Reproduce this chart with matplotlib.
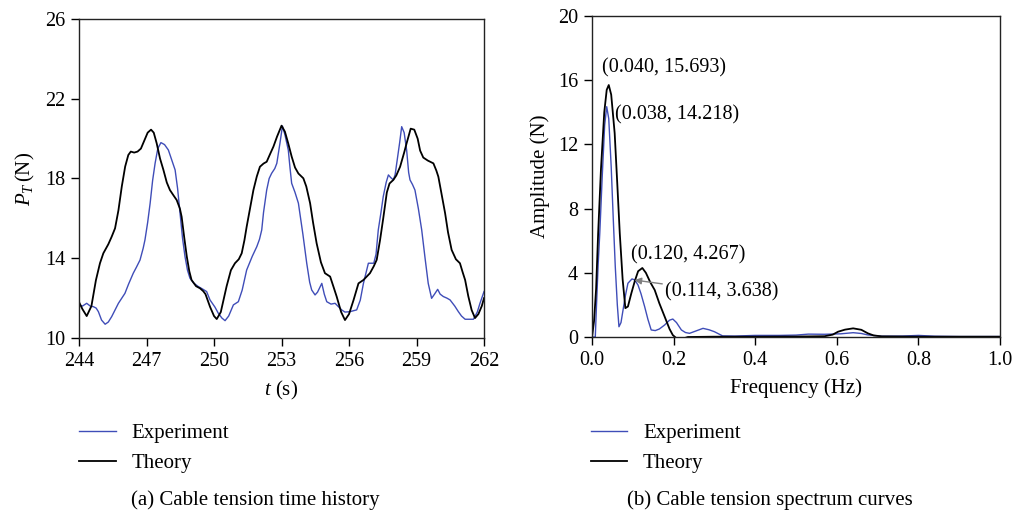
import numpy as np
import matplotlib
matplotlib.use("Agg")
import matplotlib.pyplot as plt

plt.rcParams["font.family"] = ["Liberation Serif", "DejaVu Serif"]
plt.rcParams["mathtext.fontset"] = "custom"
plt.rcParams["mathtext.rm"] = "Liberation Serif"
plt.rcParams["mathtext.it"] = "Liberation Serif:italic"

# (a) cable tension time history
t_theory = [244.0, 244.15, 244.34, 244.55, 244.75, 244.93, 245.08, 245.3, 245.45, 245.6,
            245.75, 245.9, 246.05, 246.19, 246.3, 246.45, 246.6, 246.75, 246.9, 247.05,
            247.2, 247.32, 247.45, 247.6, 247.75, 247.9, 248.04, 248.2, 248.34, 248.48,
            248.56, 248.68, 248.79, 248.9, 249.0, 249.2, 249.38, 249.52, 249.62, 249.82,
            250.0, 250.12, 250.3, 250.56, 250.75, 250.93, 251.1, 251.23, 251.35, 251.45,
            251.6, 251.75, 251.9, 252.04, 252.2, 252.34, 252.5, 252.64, 252.8, 253.0,
            253.15, 253.3, 253.45, 253.6, 253.75, 253.97, 254.1, 254.27, 254.4, 254.56,
            254.75, 254.93, 255.16, 255.3, 255.45, 255.65, 255.82, 256.0, 256.2, 256.42,
            256.64, 256.93, 257.1, 257.23, 257.38, 257.52, 257.68, 257.8, 257.97, 258.1,
            258.27, 258.45, 258.56, 258.74, 258.9, 259.05, 259.16, 259.3, 259.5, 259.75,
            259.88, 259.97, 260.1, 260.27, 260.4, 260.56, 260.75, 260.93, 261.05, 261.16,
            261.3, 261.45, 261.6, 261.75, 261.9, 262.0]
p_theory = [11.80, 11.45, 11.10, 11.6, 12.9, 13.75, 14.25, 14.7, 15.08, 15.5,
            16.4, 17.6, 18.6, 19.18, 19.35, 19.3, 19.35, 19.5, 19.9, 20.3,
            20.45, 20.3, 19.77, 19.0, 18.43, 17.8, 17.42, 17.15, 16.92, 16.5,
            16.08, 15.0, 14.08, 13.35, 12.91, 12.6, 12.49, 12.35, 12.2, 11.57,
            11.1, 10.95, 11.3, 12.6, 13.4, 13.75, 13.95, 14.25, 14.9, 15.58,
            16.5, 17.42, 18.1, 18.59, 18.75, 18.84, 19.25, 19.6, 20.1, 20.65,
            20.35, 19.75, 19.1, 18.55, 18.25, 18.01, 17.6, 16.76, 15.8, 14.75,
            13.8, 13.25, 13.08, 12.6, 12.08, 11.3, 10.9, 11.2, 11.9, 12.74,
            12.91, 13.25, 13.6, 13.92, 14.92, 16.0, 17.3, 17.75, 17.93, 18.15,
            18.59, 19.3, 19.77, 20.5, 20.45, 20.0, 19.4, 19.05, 18.9, 18.76,
            18.4, 18.09, 17.3, 16.26, 15.3, 14.42, 13.95, 13.75, 13.3, 12.91,
            12.1, 11.4, 11.0, 11.2, 11.6, 12.0]

t_exp = [244.0, 244.15, 244.34, 244.5, 244.64, 244.76, 244.86, 245.0, 245.16, 245.3,
         245.45, 245.6, 245.75, 245.9, 246.04, 246.2, 246.41, 246.55, 246.71, 246.85,
         246.93, 247.05, 247.16, 247.27, 247.38, 247.5, 247.64, 247.8, 247.97, 248.1,
         248.27, 248.38, 248.49, 248.6, 248.71, 248.82, 248.93, 249.1, 249.3, 249.5,
         249.67, 249.82, 250.04, 250.19, 250.35, 250.49, 250.65, 250.86, 251.08, 251.25,
         251.45, 251.7, 251.9, 252.02, 252.12, 252.2, 252.34, 252.45, 252.56, 252.7,
         252.79, 252.88, 252.93, 253.04, 253.15, 253.3, 253.38, 253.45, 253.6, 253.75,
         253.95, 254.12, 254.25, 254.34, 254.49, 254.6, 254.79, 254.9, 255.01, 255.2,
         255.38, 255.55, 255.67, 255.82, 256.04, 256.34, 256.5, 256.64, 256.76, 256.86,
         257.1, 257.2, 257.3, 257.42, 257.52, 257.65, 257.75, 257.85, 257.97, 258.05,
         258.12, 258.25, 258.34, 258.45, 258.56, 258.65, 258.71, 258.82, 258.93, 259.08,
         259.23, 259.38, 259.52, 259.67, 259.8, 259.94, 260.05, 260.19, 260.35, 260.49,
         260.7, 260.86, 261.0, 261.16, 261.53, 261.7, 261.82, 262.0]
p_exp = [11.66, 11.6, 11.74, 11.6, 11.57, 11.5, 11.32, 10.9, 10.69, 10.8,
         11.07, 11.4, 11.74, 12.0, 12.24, 12.7, 13.25, 13.55, 13.91, 14.5,
         14.92, 15.8, 16.76, 17.9, 18.76, 19.5, 19.8, 19.7, 19.43, 19.0,
         18.43, 17.5, 16.26, 15.0, 14.08, 13.4, 13.0, 12.75, 12.58, 12.45,
         12.33, 11.91, 11.55, 11.24, 11.0, 10.87, 11.1, 11.66, 11.82, 12.4,
         13.41, 14.1, 14.58, 14.95, 15.42, 16.3, 17.42, 18.0, 18.26, 18.5,
         18.76, 19.4, 19.77, 20.63, 20.2, 19.43, 18.5, 17.76, 17.3, 16.76,
         15.2, 13.75, 12.8, 12.41, 12.16, 12.3, 12.74, 12.2, 11.82, 11.7,
         11.74, 11.55, 11.41, 11.3, 11.32, 11.41, 11.9, 12.74, 13.3, 13.75,
         13.75, 14.2, 15.42, 16.3, 17.09, 17.8, 18.18, 18.05, 17.93, 18.2,
         18.76, 19.8, 20.6, 20.3, 19.43, 18.3, 17.93, 17.7, 17.42, 16.5,
         15.42, 14.0, 12.74, 11.99, 12.2, 12.44, 12.2, 12.08, 12.0, 11.91,
         11.6, 11.32, 11.1, 10.94, 10.94, 11.3, 11.74, 12.33]

# (b) spectrum curves
f_theory = [0.0, 0.005, 0.01, 0.015, 0.022, 0.03, 0.036, 0.041, 0.047, 0.0555,
            0.062, 0.068, 0.075, 0.0817, 0.088, 0.0963, 0.105, 0.113, 0.1233, 0.132,
            0.143, 0.1536, 0.165, 0.178, 0.19, 0.198, 0.207, 0.215, 0.225, 0.235,
            0.3, 0.4, 0.5, 0.57, 0.59, 0.603, 0.62, 0.64, 0.66, 0.676,
            0.69, 0.71, 0.8, 0.9, 1.0]
a_theory = [0.0, 1.0, 3.0, 6.46, 10.5, 14.0, 15.4, 15.7, 15.1, 12.7,
            9.5, 6.46, 3.6, 1.8, 1.9, 2.72, 3.5, 4.1, 4.3, 4.0,
            3.4, 2.93, 2.1, 1.27, 0.5, 0.12, -0.08, -0.14, -0.08, 0.0,
            0.02, 0.02, 0.03, 0.05, 0.15, 0.33, 0.46, 0.54, 0.45, 0.23,
            0.1, 0.04, 0.02, 0.02, 0.02]

f_exp = [0.0, 0.008, 0.011, 0.015, 0.019, 0.025, 0.031, 0.036, 0.041, 0.047,
         0.052, 0.057, 0.062, 0.066, 0.071, 0.076, 0.082, 0.088, 0.098, 0.105,
         0.1127, 0.12, 0.129, 0.137, 0.145, 0.155, 0.165, 0.178, 0.19, 0.198,
         0.207, 0.219, 0.229, 0.239, 0.255, 0.272, 0.287, 0.3, 0.32, 0.35,
         0.4, 0.46, 0.5, 0.53, 0.57, 0.61, 0.64, 0.66, 0.676, 0.71,
         0.76, 0.8, 0.84, 0.9, 1.0]
a_exp = [0.0, 0.0, 2.0, 4.5, 6.46, 10.0, 13.2, 14.35, 13.6, 10.6,
         7.4, 4.38, 2.0, 0.64, 0.9, 1.68, 2.6, 3.35, 3.62, 3.55,
         3.24, 2.7, 1.89, 1.1, 0.44, 0.4, 0.5, 0.75, 1.05, 1.12,
         0.9, 0.44, 0.28, 0.23, 0.38, 0.54, 0.45, 0.33, 0.07, 0.06,
         0.1, 0.1, 0.12, 0.18, 0.17, 0.2, 0.27, 0.22, 0.13, 0.05,
         0.06, 0.1, 0.05, 0.03, 0.03]

peak_labels = ["(0.040, 15.693)", "(0.038, 14.218)", "(0.120, 4.267)", "(0.114, 3.638)"]

blue = "#3F4DB8"
tick_fs = 14.5
label_fs = 15

fig = plt.figure(figsize=(10.16, 5.15), dpi=100)
ax1 = fig.add_axes([0.0778, 0.3437, 0.3986, 0.6194])
ax2 = fig.add_axes([0.5827, 0.3456, 0.4016, 0.6233])

for ax in (ax1, ax2):
    for s in ax.spines.values():
        s.set_linewidth(1.0)
        s.set_color("#222222")
    ax.tick_params(direction="out", length=6, width=1.0, labelsize=tick_fs,
                   top=False, right=False, pad=4)

ax1.plot(t_exp, p_exp, color=blue, lw=1.0, label="Experiment")
ax1.plot(t_theory, p_theory, color="black", lw=1.3, label="Theory")
ax1.set_xlim(244, 262)
ax1.set_ylim(10, 26)
ax1.set_xticks(np.arange(244, 263, 3))
ax1.set_yticks(np.arange(10, 27, 4))
ax1.set_xlabel(r"$t$ (s)", fontsize=label_fs, labelpad=6)
ax1.set_ylabel(r"$P_T\,$(N)", fontsize=label_fs, labelpad=6)

ax2.plot(f_exp, a_exp, color=blue, lw=1.0, label="Experiment")
ax2.plot(f_theory, a_theory, color="black", lw=1.3, label="Theory")
ax2.set_xlim(0, 1.0)
ax2.set_ylim(0, 20)
ax2.set_xticks(np.arange(0, 1.01, 0.2))
ax2.set_xticklabels(["0.0", "0.2", "0.4", "0.6", "0.8", "1.0"])
ax2.set_yticks(np.arange(0, 21, 4))
ax2.set_xlabel("Frequency (Hz)", fontsize=label_fs, labelpad=6)
ax2.set_ylabel("Amplitude (N)", fontsize=label_fs, labelpad=6)

ax2.text(0.024, 16.8, peak_labels[0], fontsize=tick_fs, va="center", ha="left")
ax2.text(0.056, 13.85, peak_labels[1], fontsize=tick_fs, va="center", ha="left")
ax2.text(0.096, 5.1, peak_labels[2], fontsize=tick_fs, va="center", ha="left")
ax2.annotate(peak_labels[3], xy=(0.104, 3.55), xytext=(0.179, 2.8),
             fontsize=tick_fs, va="center", ha="left",
             arrowprops=dict(arrowstyle="-|>", color="#808080", lw=1.0,
                             shrinkA=0, shrinkB=0, mutation_scale=10))

# legends sit below each axes
for ax, x0 in ((ax1, 0.0778), (ax2, 0.5817)):
    ax.legend(loc="upper left", bbox_to_anchor=(x0, 0.177),
              bbox_transform=fig.transFigure, frameon=False, fontsize=label_fs,
              borderpad=0, borderaxespad=0, handlelength=1.75,
              handletextpad=0.75, labelspacing=0.5)

fig.text(255 / 1016, 0.029, "(a) Cable tension time history", fontsize=label_fs,
         ha="center", va="center")
fig.text(770 / 1016, 0.029, "(b) Cable tension spectrum curves", fontsize=label_fs,
         ha="center", va="center")

fig.savefig("out.png", dpi=100)
